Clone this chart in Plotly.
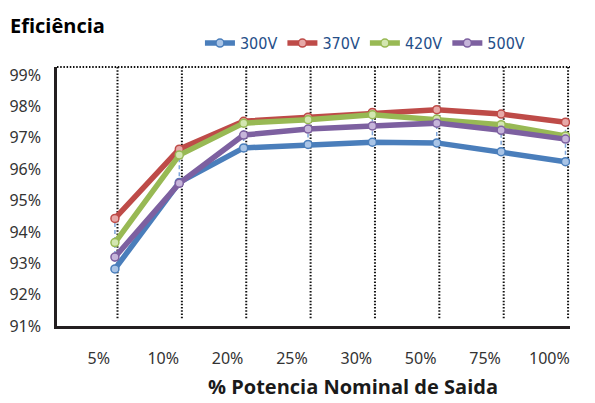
import plotly.graph_objects as go

categories = ["5%", "10%", "20%", "25%", "30%", "50%", "75%", "100%"]
series_names = ["300V", "370V", "420V", "500V"]
v300 = [92.82, 95.58, 96.68, 96.79, 96.86, 96.84, 96.56, 96.24]
v370 = [94.43, 96.64, 97.53, 97.66, 97.81, 97.90, 97.76, 97.50]
v420 = [93.66, 96.45, 97.47, 97.58, 97.74, 97.60, 97.42, 97.06]
v500 = [93.20, 95.55, 97.09, 97.28, 97.38, 97.47, 97.24, 96.96]
y_ticks = [91, 92, 93, 94, 95, 96, 97, 98, 99]

colors = ["#4A7EBB", "#BE4B48", "#98B954", "#7D60A0"]
fills = ["#A9C4E6", "#E7A9A8", "#D3E6B0", "#C6B5DA"]
values = [v300, v370, v420, v500]

x = list(range(len(categories)))
fig = go.Figure()

# high-low lines
hx, hy = [], []
for i in x:
    col = [v[i] for v in values]
    hx += [i, i, None]
    hy += [min(col), max(col), None]
fig.add_trace(go.Scatter(x=hx, y=hy, mode="lines", showlegend=False, hoverinfo="skip",
                         line=dict(color="#7FA6DA", width=1.5, dash="4px,3px")))

for name, vals, c, f in zip(series_names, values, colors, fills):
    fig.add_trace(go.Scatter(
        x=x, y=vals, name=name, mode="lines+markers",
        line=dict(color=c, width=5.5),
        marker=dict(symbol="circle", size=8, color=f, line=dict(color=c, width=1.5)),
    ))

shapes = []
for i in x:
    shapes.append(dict(type="line", xref="x", yref="y", x0=i + 0.04, x1=i + 0.04, y0=91.25, y1=99.26,
                       line=dict(color="#111111", width=2, dash="1.5px,1.7px"), layer="below"))
shapes.append(dict(type="line", xref="paper", yref="paper", x0=0, x1=1, y0=1, y1=1,
                   line=dict(color="#111111", width=2, dash="1.5px,1.7px"), layer="below"))

fig.update_layout(
    width=587, height=395,
    margin=dict(l=49, r=25, t=58.5, b=76.5, autoexpand=False),
    paper_bgcolor="white", plot_bgcolor="white",
    shapes=shapes,
    font=dict(family="Noto Sans", color="#333333", size=16),
    xaxis=dict(range=[-0.9, 7.07], tickvals=[i - 0.25 for i in x], ticktext=categories,
               showgrid=False, zeroline=False, showline=True, linecolor="#231F20", linewidth=2.5,
               ticks="", ticklabelstandoff=16, tickfont=dict(size=16, color="#333333")),
    yaxis=dict(range=[91, 99.26], tickvals=y_ticks, ticktext=[f"{t}%" for t in y_ticks],
               showgrid=False, zeroline=False, showline=True, linecolor="#231F20", linewidth=2.5,
               ticks="", ticklabelstandoff=10, tickfont=dict(size=16, color="#333333")),
    legend=dict(orientation="h", xref="container", yref="container", x=0.327, y=0.954,
                xanchor="left", yanchor="top",
                font=dict(family="DejaVu Sans Condensed", size=16, color="#254E88"),
                itemwidth=30, bgcolor="rgba(0,0,0,0)"),
    annotations=[
        dict(text="<b>Eficiência</b>", xref="paper", yref="paper", x=-0.0955, y=1.1615,
             xanchor="left", yanchor="middle", showarrow=False,
             font=dict(family="Open Sans", size=20, color="#000000")),
        dict(text="<b>% Potencia Nominal de Saida</b>", xref="paper", yref="paper", x=0.577, y=-0.2885,
             xanchor="center", yanchor="bottom", showarrow=False, borderpad=0,
             font=dict(family="Open Sans", size=20, color="#1a1a1a")),
    ],
)

fig.write_html("out.html")
